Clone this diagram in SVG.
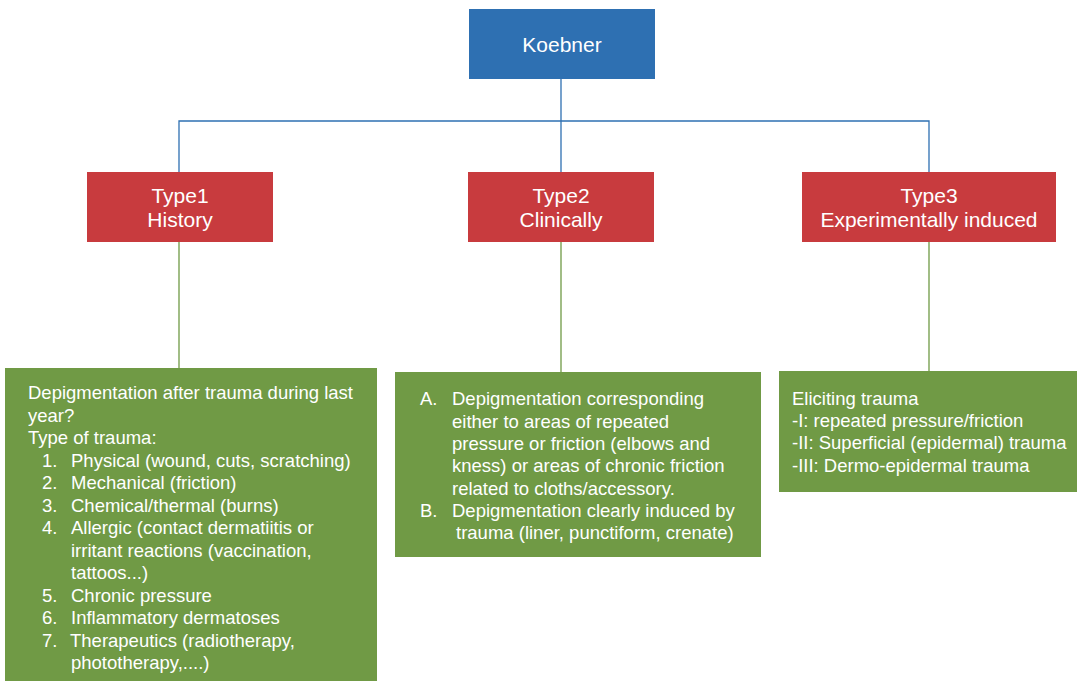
<svg xmlns="http://www.w3.org/2000/svg" width="1077" height="681" viewBox="0 0 1077 681">
<style>
.blue{fill:#2E70B2}
.red{fill:#C83B3E}
.green{fill:#709A45}
.h{font-family:"Liberation Sans",Arial,sans-serif;font-size:21px;fill:#fff;text-anchor:middle}
.b{font-family:"Liberation Sans",Arial,sans-serif;font-size:18.5px;fill:#fff}
.cb{stroke:#2E70B2;stroke-width:1.3;fill:none}
.cg{stroke:#709A45;stroke-width:1.3;fill:none}
</style>
<rect width="1077" height="681" fill="#fff"/>
<g id="connectors">
<path class="cb" d="M561 79V121M179 172V121H929V172M561 121V172"/>
<path class="cg" d="M179 242V368M561 242V372M929 242V371"/>
</g>
<g id="koebner">
<rect class="blue" x="469" y="9" width="186" height="70"/>
<text class="h" x="562" y="51.5">Koebner</text>
</g>
<g id="type1">
<rect class="red" x="87" y="172" width="186" height="70"/>
<text class="h" x="180" y="203">Type1</text>
<text class="h" x="180" y="227">History</text>
</g>
<g id="type2">
<rect class="red" x="468" y="172" width="186" height="70"/>
<text class="h" x="561" y="203">Type2</text>
<text class="h" x="561" y="227">Clinically</text>
</g>
<g id="type3">
<rect class="red" x="802" y="172" width="254" height="70"/>
<text class="h" x="929" y="203">Type3</text>
<text class="h" x="929" y="227">Experimentally induced</text>
</g>
<g id="history-detail">
<rect class="green" x="5" y="368" width="372" height="313"/>
<text class="b" x="28" y="399">Depigmentation after trauma during last</text>
<text class="b" x="28" y="421.5">year?</text>
<text class="b" x="28" y="444">Type of trauma:</text>
<text class="b" x="42" y="466.5">1.</text><text class="b" x="71" y="466.5">Physical (wound, cuts, scratching)</text>
<text class="b" x="42" y="489">2.</text><text class="b" x="71" y="489">Mechanical (friction)</text>
<text class="b" x="42" y="511.5">3.</text><text class="b" x="71" y="511.5">Chemical/thermal (burns)</text>
<text class="b" x="42" y="534">4.</text><text class="b" x="71" y="534">Allergic (contact dermatiitis or</text>
<text class="b" x="71" y="556.5">irritant reactions (vaccination,</text>
<text class="b" x="71" y="579">tattoos...)</text>
<text class="b" x="42" y="601.5">5.</text><text class="b" x="71" y="601.5">Chronic pressure</text>
<text class="b" x="42" y="624">6.</text><text class="b" x="71" y="624">Inflammatory dermatoses</text>
<text class="b" x="42" y="646.5">7.</text><text class="b" x="70" y="646.5">Therapeutics (radiotherapy,</text>
<text class="b" x="71" y="669">phototherapy,....)</text>
</g>
<g id="clinical-detail">
<rect class="green" x="395" y="372" width="366" height="185"/>
<text class="b" x="420" y="405">A.</text><text class="b" x="452" y="405">Depigmentation corresponding</text>
<text class="b" x="452" y="427.5">either to areas of repeated</text>
<text class="b" x="452" y="450">pressure or friction (elbows and</text>
<text class="b" x="452" y="472">kness) or areas of chronic friction</text>
<text class="b" x="452" y="494.5">related to cloths/accessory.</text>
<text class="b" x="420" y="517">B.</text><text class="b" x="452" y="517">Depigmentation clearly induced by</text>
<text class="b" x="456" y="539">trauma (liner, punctiform, crenate)</text>
</g>
<g id="experimental-detail">
<rect class="green" x="779" y="371" width="298" height="121"/>
<text class="b" x="792" y="405">Eliciting trauma</text>
<text class="b" x="792" y="427">-I: repeated pressure/friction</text>
<text class="b" x="792" y="449">-II: Superficial (epidermal) trauma</text>
<text class="b" x="792" y="471.5">-III: Dermo-epidermal trauma</text>
</g>
</svg>
